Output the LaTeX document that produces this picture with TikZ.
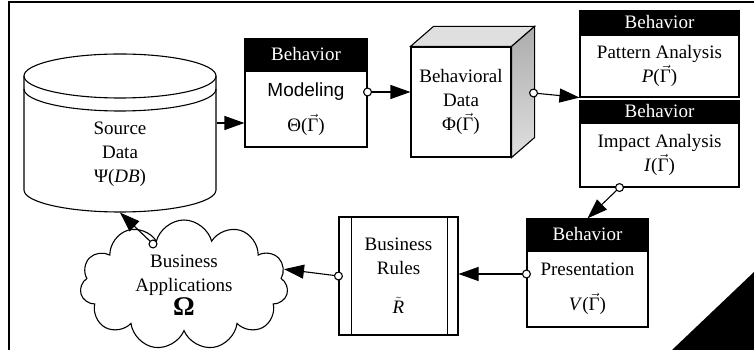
\documentclass[tikz,border=0pt]{standalone}
\usepackage[no-math]{fontspec}
\setmainfont{Liberation Serif}
\setsansfont{Liberation Sans}
\usetikzlibrary{arrows.meta,positioning,shapes.symbols}
\newcommand\vG{$\vec{\hbox{Γ}}$}
\tikzset{
  bhead/.style={draw, fill=black, text=white, inner sep=0pt},
  bbody/.style={draw, fill=white, align=center, inner sep=0pt},
  arr/.style={-{Triangle[length=20pt,width=14pt]}},
  carr/.style={{Circle[length=9pt,width=9pt,fill=white]}-{Triangle[length=20pt,width=14pt]}, shorten <=-4.5pt},
}
\begin{document}
\begin{tikzpicture}[x=1pt, y=1pt, line width=1.1pt, font=\fontsize{19}{24}\selectfont]
\useasboundingbox (0,0) rectangle (754,350);
\draw[line width=1.6pt] (9,0) -- (9,348) -- (754,348);
\fill (754,78) -- (754,0) -- (672,0) -- cycle;
% source data
\node (src) [minimum width=192pt, minimum height=158pt, inner sep=0pt] at (120,217) {};
\draw[fill=white] (24,274) -- (24,160) arc[start angle=180, end angle=360, x radius=96, y radius=22] -- (216,274);
\draw (120,274) ellipse [x radius=96, y radius=22];
\draw (24,261) arc[start angle=180, end angle=360, x radius=96, y radius=22];
\node (srctxt) [align=center] at (120,196) {Source\\Data\\Ψ(\textit{DB})};
% behavior boxes
\node (model) [bbody, minimum width=122pt, minimum height=76pt] at (306,241) {{\sffamily Modeling}\\[11pt]Θ(\vG)};
\node (modelhd) [bhead, minimum width=122pt, minimum height=31pt, above=0pt of model] {Behavior};
\node (pat) [bbody, minimum width=159pt, minimum height=62pt] at (659.5,284) {Pattern Analysis\\\textit{P}(\vG)};
\node (pathd) [bhead, minimum width=159pt, minimum height=23pt, above=0pt of pat] {Behavior};
\node (imp) [bbody, minimum width=159pt, minimum height=64pt] at (659.5,195) {Impact Analysis\\\textit{I}(\vG)};
\node (imphd) [bhead, minimum width=159pt, minimum height=21pt, above=0pt of imp] {Behavior};
\node (pres) [bbody, minimum width=121pt, minimum height=76pt] at (587.5,61) {Presentation\\[11pt]\textit{V}(\vG)};
\node (preshd) [bhead, minimum width=121pt, minimum height=31pt, above=0pt of pres] {Behavior};
% behavioral data cube
\node (cube) [draw, fill=white, minimum width=100pt, minimum height=110pt, align=center] at (461,248) {Behavioral\\Data\\Φ(\vG)};
\draw[fill=gray!25] (cube.north west) -- ++(23,20) -- ([shift={(23,20)}]cube.north east) -- (cube.north east) -- cycle;
\shadedraw[top color=gray!65, bottom color=gray!25] (cube.north east) -- ++(23,20) -- ([shift={(23,20)}]cube.south east) -- (cube.south east) -- cycle;
% business rules
\node (rules) [draw, fill=white, minimum width=119pt, minimum height=118pt, align=center] at (398.5,74) {Business\\Rules\\[15pt]$\tilde{\hbox{\itshape R}}$};
\draw ([xshift=13pt]rules.north west) -- ([xshift=13pt]rules.south west);
\draw ([xshift=-11pt]rules.north east) -- ([xshift=-11pt]rules.south east);
% business applications
\node (apps) [cloud, draw, fill=white, cloud puffs=11, aspect=1.6, minimum width=208pt, minimum height=130pt, align=center] at (184,65) {Business\\Applications\\{\fontsize{27}{27}\selectfont\bfseries Ω}};
% connectors
\draw[arr] ([yshift=10pt]src.east) -- ([yshift=10pt]src.east -| model.west);
\draw[carr] ([yshift=17pt]model.east) -- ([yshift=17pt]model.east -| cube.west);
\draw[carr] ([shift={(22pt,9pt)}]cube.east) -- (pat.south west);
\draw[carr] ([xshift=-40pt]imp.south) -- (preshd.north);
\draw[carr] ([yshift=15pt]pres.west) -- ([yshift=15pt]pres.west -| rules.east);
\draw[carr] (rules.west) -- (apps.9);
\draw[carr] ([shift={(-31pt,41pt)}]apps.center) -- (src.south);
\end{tikzpicture}
\end{document}
